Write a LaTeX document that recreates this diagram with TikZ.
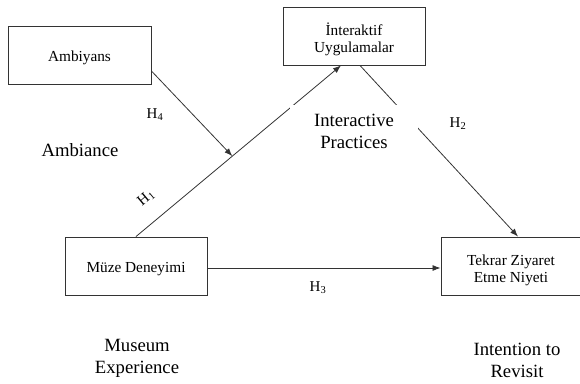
\documentclass[tikz,border=0pt]{standalone}
\usepackage{fontspec}
\setmainfont{Liberation Serif}
\usetikzlibrary{arrows.meta,calc}
\newcommand\bxtop{\rule{0pt}{19.5pt}}
\newcommand\bxbot{\rule[-3.8pt]{0pt}{3.8pt}}
\newcommand\bxone{\rule[-3.8pt]{0pt}{19.6pt}}
\begin{document}
\begin{tikzpicture}[x=1pt,y=-1pt,
  box/.style={draw=black!80,line width=0.9pt,minimum width=143pt,minimum height=58pt,inner sep=0pt,align=center,font=\fontsize{15.3}{17}\selectfont},
  lbl/.style={align=center,inner sep=0pt,font=\fontsize{18.7}{22}\selectfont},
  hyp/.style={inner sep=0pt,font=\fontsize{15}{18}\selectfont},
  conn/.style={draw=black!80,line width=0.8pt},
  arr/.style={conn,-{Latex[length=8pt,width=6pt]}}]
\useasboundingbox (0,0) rectangle (580,383);
\clip (0,0) rectangle (580,383);
% boxes
\node[box] (amb) at (79.5,55) {\bxone Ambiyans};
\node[box,minimum width=142pt] (inter) at (354,36) {\bxtop İnteraktif\\Uygulamalar\bxbot};
\node[box,minimum width=142pt] (muze) at (136,266) {\bxone Müze Deneyimi};
\node[box,minimum width=148pt] (tekrar) at (515,266) {\bxtop Tekrar Ziyaret\hspace*{8pt}\\Etme Niyeti\hspace*{8pt}\bxbot};
% connectors
\coordinate (h1end) at ($(inter.south)+(-13,0)$);
\draw[arr] (muze.north) -- (h1end);
\coordinate (h4start) at ($(amb.east)+(0,16)$);
\coordinate (h4end) at ($(muze.north)!0.47!(h1end)$);
\draw[arr] (h4start) -- (h4end);
\coordinate (h2start) at ($(inter.south)+(6,0)$);
\coordinate (h2end) at ($(tekrar.north)+(3,0)$);
\draw[arr] (h2start) -- (h2end);
\coordinate (h3start) at ($(muze.east)+(0,2)$);
\coordinate (h3end) at ($(tekrar.west)+(0,2)$);
\draw[arr] (h3start) -- (h3end);
% labels
\node[hyp,anchor=base] (h4) at (155,118) {H\textsubscript{4}};
\node[lbl,anchor=base] (ambl) at (80,156) {Ambiance};
\node[hyp,rotate=40] (h1) at (146,198) {H\textsubscript{1}};
\node[lbl,fill=white,minimum width=128pt,minimum height=47pt] (ipl) at (354,128.5) {\rule{0pt}{18pt}Interactive\\Practices};
\node[hyp,anchor=base] (h2) at (458,127) {H\textsubscript{2}};
\node[hyp,anchor=base] (h3) at (318,291) {H\textsubscript{3}};
\node[lbl,anchor=north] (mel) at (137,339.5) {Museum\\Experience};
\node[lbl,anchor=north] (irl) at (517,342.5) {Intention to\\Revisit};
\end{tikzpicture}
\end{document}
